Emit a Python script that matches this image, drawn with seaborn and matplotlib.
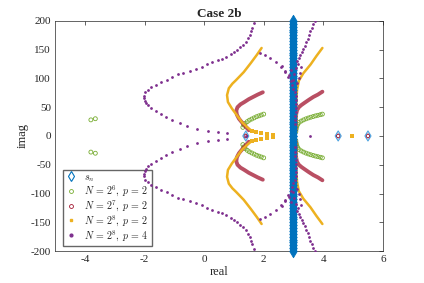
import numpy as np
import pandas as pd
import seaborn as sns
from matplotlib import pyplot as plt
from matplotlib.lines import Line2D

sns.set_style('white')
plt.rcParams['font.family'] = 'serif'
plt.rcParams['font.serif'] = ['Liberation Serif', 'DejaVu Serif']
plt.rcParams['mathtext.fontset'] = 'cm'
plt.rcParams['axes.unicode_minus'] = False

blue, green, red = '#0072BD', '#77AC30', '#A2142F'
orange, purple = '#EDB120', '#7E2F8E'

# s_n : column at Re = 3 plus three points on the real axis (upper half, mirrored below)
s_col_im = [0, 5, 10, 15, 20, 25, 30, 35, 40, 45, 50, 55, 60, 65, 70, 75, 80, 85, 90, 95,
            100, 105, 110, 115, 120, 125, 130, 135, 140, 145, 150, 155, 160, 165, 170,
            175, 180, 185, 190, 195, 200]
s_axis_re = [1.4, 4.5, 5.5]

# N = 2^6, p = 2 (upper half)
g_left_re = [1.30, 1.33, 1.38, 1.45, 1.52, 1.60, 1.68, 1.76, 1.84, 1.92, 2.00]
g_left_im = [15, 19, 22, 25, 27.5, 29.5, 31.5, 33.5, 35, 36.5, 38]
g_right_re = [3.08, 3.09, 3.11, 3.14, 3.19, 3.26, 3.34, 3.42, 3.50, 3.58, 3.66, 3.74, 3.82, 3.90, 3.97]
g_right_im = [8, 12, 16, 20, 23.5, 26, 28, 29.8, 31.3, 32.6, 33.8, 35, 36, 37, 38]
g_far_re = [-3.80, -3.65]
g_far_im = [28, 30]

# N = 2^7, p = 2 (upper half)
r_left_re = [1.50, 1.40, 1.28, 1.17, 1.10, 1.08, 1.12, 1.22, 1.35, 1.50, 1.65, 1.80, 1.97]
r_left_im = [10, 16, 23, 30, 37, 44, 50, 55, 59, 64, 68, 72, 76]
r_right_re = [3.08, 3.08, 3.08, 3.09, 3.12, 3.18, 3.27, 3.38, 3.52, 3.67, 3.82, 3.97]
r_right_im = [10, 20, 30, 38, 45, 50, 54, 58, 63, 68, 72, 77]
r_axis_re = [1.4, 4.5, 5.5]

# N = 2^8, p = 2 (upper half)
o_left_re = [1.57, 1.43, 1.27, 1.10, 0.93, 0.80, 0.77, 0.83, 0.95, 1.07, 1.33, 1.57, 1.77, 1.93]
o_left_im = [10, 16, 24, 36, 48, 59, 71, 83, 91, 97, 111, 127, 141, 153]
o_right_re = [3.09, 3.09, 3.09, 3.10, 3.12, 3.18, 3.33, 3.57, 3.77, 3.97]
o_right_im = [10, 30, 50, 66, 80, 96, 109, 124, 139, 153]
o_sq_re = [1.60, 1.75, 1.92, 2.10, 2.30]
o_sq_im = [9, 7, 5, 3.5, 2]
o_axis_re = [4.95]

# N = 2^8, p = 4 (upper half)
p_arc_re = [0.77, 0.45, 0.13, -0.23, -0.57, -0.82, -1.07, -1.27, -1.43, -1.62, -1.77, -1.88,
            -1.95, -2.00, -2.03, -2.02, -1.97, -1.88, -1.77, -1.62, -1.43, -1.25, -1.07, -0.88,
            -0.70, -0.48, -0.27, -0.08, 0.10, 0.28, 0.45, 0.60, 0.73, 0.90, 1.00, 1.10, 1.20,
            1.30, 1.40, 1.47, 1.53, 1.58, 1.62, 1.67]
p_arc_im = [5, 7, 9, 12, 17, 22, 28, 33, 38, 44, 49, 53, 57, 61, 66, 70, 76, 80, 85, 89, 94, 98,
            103, 107, 110, 113, 116, 120, 125, 129, 132, 134, 137, 142, 146, 150, 154, 158, 164,
            170, 176, 182, 188, 196]
p_mid_re = [1.87, 2.05, 2.20, 2.40, 2.57, 2.73, 2.83, 2.90]
p_mid_im = [144, 140, 136, 128, 120, 111, 103, 96]
p_clu_re = [2.60, 2.72, 2.95, 3.00, 3.05, 3.12, 3.18, 3.22, 3.10, 3.02, 2.93, 3.15, 3.25, 2.85, 2.98]
p_clu_im = [121, 113, 88, 82, 76, 92, 101, 110, 118, 108, 115, 126, 120, 106, 98]
p_edge_re = [3.08, 3.08, 3.08, 3.07, 3.07, 3.06, 3.06, 3.05]
p_edge_im = [70, 62, 55, 48, 41, 34, 27, 20]
p_up_re = [3.12, 3.17, 3.22, 3.27, 3.32, 3.37, 3.43, 3.48, 3.53, 3.57, 3.62, 3.67, 3.72]
p_up_im = [130, 136, 141, 146, 151, 156, 163, 169, 176, 182, 188, 194, 200]
p_axis_re = [1.4, 3.55]


def mirror(re, im):
    # eigenvalues come in conjugate pairs
    return list(re) + list(re), list(im) + [-v for v in im]


fig = plt.figure(figsize=(4.24, 2.83), dpi=100)
ax = fig.add_axes([0.130, 0.113, 0.773, 0.813])

# green circles
for re, im in [(g_left_re, g_left_im), (g_right_re, g_right_im), (g_far_re, g_far_im)]:
    xs, ys = mirror(re, im)
    sns.scatterplot(x=xs, y=ys, ax=ax, marker='o', s=8, facecolor='none',
                    edgecolor=green, linewidth=0.6, zorder=2)

# red branches
for re, im in [(r_left_re, r_left_im), (r_right_re, r_right_im)]:
    for sgn in (1, -1):
        sns.lineplot(x=re, y=[sgn * v for v in im], ax=ax, sort=False, estimator=None,
                     color=red, lw=2.8, alpha=0.75, zorder=3)
sns.scatterplot(x=r_axis_re, y=[0] * len(r_axis_re), ax=ax, marker='o', s=7,
                facecolor='none', edgecolor=red, linewidth=0.8, zorder=3)

# orange branches
for re, im in [(o_left_re, o_left_im), (o_right_re, o_right_im)]:
    for sgn in (1, -1):
        sns.lineplot(x=re, y=[sgn * v for v in im], ax=ax, sort=False, estimator=None,
                     color=orange, lw=1.8, zorder=4)
xs, ys = mirror(o_sq_re, o_sq_im)
sns.scatterplot(x=xs + o_axis_re, y=ys + [0] * len(o_axis_re), ax=ax, marker='s', s=5,
                color=orange, linewidth=0, zorder=4)

# s_n (dense column drawn as overlapping diamonds)
xs, ys = mirror([3] * len(s_col_im), s_col_im)
col = pd.DataFrame({'re': xs, 'im': ys}).sort_values('im')
sns.lineplot(data=col, x='re', y='im', ax=ax, sort=False, estimator=None, color=blue,
             lw=5.0, zorder=5, solid_capstyle='butt')
sns.scatterplot(data=col, x='re', y='im', ax=ax, marker='d', s=40, facecolor=blue,
                edgecolor=blue, linewidth=0.6, zorder=5, clip_on=False)
sns.scatterplot(x=s_axis_re, y=[0] * len(s_axis_re), ax=ax, marker='d', s=26,
                facecolor='none', edgecolor='#4DA3E0', linewidth=0.8, zorder=5)

# purple dots
p_re = p_arc_re + p_mid_re + p_clu_re + p_edge_re + p_up_re
p_im = p_arc_im + p_mid_im + p_clu_im + p_edge_im + p_up_im
xs, ys = mirror(p_re, p_im)
sns.scatterplot(x=xs + p_axis_re, y=ys + [0] * len(p_axis_re), ax=ax, marker='o', s=4,
                color=purple, linewidth=0, zorder=6)

ax.set_xlim(-5, 6)
ax.set_ylim(-200, 200)
ax.set_xticks([-4, -2, 0, 2, 4, 6])
ax.set_yticks([-200, -150, -100, -50, 0, 50, 100, 150, 200])
ax.tick_params(direction='in', top=True, right=True, length=3, width=0.5,
               labelsize=8, color='0.15', pad=3)
for sp in ax.spines.values():
    sp.set_linewidth(0.5)
    sp.set_color('0.15')
ax.set_xlabel('real', fontsize=9, labelpad=1)
ax.set_ylabel('imag', fontsize=9, labelpad=1)
ax.set_title('Case 2b', fontweight='bold', fontsize=9.5, pad=3)

handles = [
    Line2D([], [], ls='none', marker='d', mfc='none', mec=blue, ms=5, mew=0.8),
    Line2D([], [], ls='none', marker='o', mfc='none', mec=green, ms=2.8, mew=0.6),
    Line2D([], [], ls='none', marker='o', mfc='none', mec=red, ms=2.8, mew=0.6),
    Line2D([], [], ls='none', marker='s', color=orange, ms=2),
    Line2D([], [], ls='none', marker='o', color=purple, ms=2),
]
labels = ['$s_n$', r'$N\,=\,2^6,\; p\,=\,2$', r'$N\,=\,2^7,\; p\,=\,2$',
          r'$N\,=\,2^8,\; p\,=\,2$', r'$N\,=\,2^8,\; p\,=\,4$']
ax.legend(handles, labels, loc='lower left', bbox_to_anchor=(0.024, 0.022),
          borderaxespad=0, fontsize=7.2, frameon=True, fancybox=False, framealpha=1,
          edgecolor='0.4', handlelength=1.0, handletextpad=0.8, labelspacing=0.0,
          borderpad=0.3)

plt.savefig('out.png', dpi=100)
